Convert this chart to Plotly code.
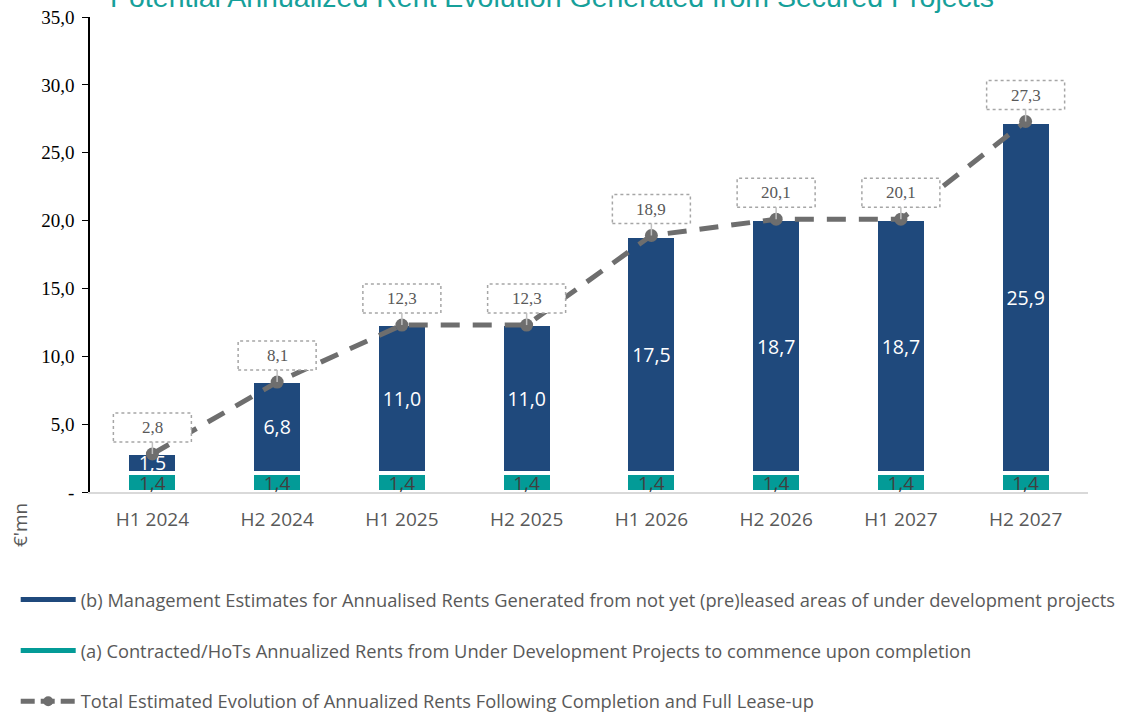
import plotly.graph_objects as go

categories = ["H1 2024", "H2 2024", "H1 2025", "H2 2025", "H1 2026", "H2 2026", "H1 2027", "H2 2027"]
contracted = [1.4, 1.4, 1.4, 1.4, 1.4, 1.4, 1.4, 1.4]
management = [1.5, 6.8, 11.0, 11.0, 17.5, 18.7, 18.7, 25.9]
total = [2.8, 8.1, 12.3, 12.3, 18.9, 20.1, 20.1, 27.3]
ytick_vals = [0, 5, 10, 15, 20, 25, 30, 35]
ytick_text = ["-", "5,0", "10,0", "15,0", "20,0", "25,0", "30,0", "35,0"]

name_b = "(b) Management Estimates for Annualised Rents Generated from not yet (pre)leased areas of under development projects"
name_a = "(a) Contracted/HoTs Annualized Rents from Under Development Projects to commence upon completion"
name_t = "Total Estimated Evolution of Annualized Rents Following Completion and Full Lease-up"
title = "Potential Annualized Rent Evolution Generated from Secured Projects"

BLUE = "#1f497c"
TEAL = "#039b97"
GRAY = "#6e6e6e"

def fmt(v):
    return f"{v:.1f}".replace(".", ",")

xs = list(range(len(categories)))
fig = go.Figure()

fig.add_trace(go.Bar(
    x=xs, y=contracted, width=0.4, marker=dict(color=TEAL, line=dict(color="white", width=4)),
    text=[fmt(v) for v in contracted], textposition="inside", insidetextanchor="middle",
    textfont=dict(family="Open Sans", size=19, color="#404040"), showlegend=False, hoverinfo="skip"))
fig.add_trace(go.Bar(
    x=xs, y=management, width=0.4, marker=dict(color=BLUE, line=dict(color="white", width=4)),
    text=[fmt(v) for v in management], textposition="inside", insidetextanchor="middle",
    textfont=dict(family="Open Sans", size=19.5, color="white"), showlegend=False, hoverinfo="skip"))
fig.add_trace(go.Scatter(
    x=xs, y=total, mode="lines+markers",
    line=dict(color=GRAY, width=5, dash="19px,13px"),
    marker=dict(color=GRAY, size=13), showlegend=False, hoverinfo="skip"))

# legend entries
fig.add_trace(go.Scatter(x=[None], y=[None], mode="lines", line=dict(color=BLUE, width=5),
                         name=name_b, legendgroup="b", legendrank=1))
fig.add_trace(go.Scatter(x=[None], y=[None], mode="lines", line=dict(color=TEAL, width=5),
                         name=name_a, legendgroup="a", legendrank=2))
fig.add_trace(go.Scatter(x=[None], y=[None], mode="lines+markers",
                         line=dict(color=GRAY, width=5, dash="14px,6px"),
                         marker=dict(color=GRAY, size=10),
                         name=name_t, legendgroup="t", legendrank=3))

# total labels in dotted boxes with leader lines
for i, t in zip(xs, total):
    fig.add_shape(type="rect", xref="x", yref="y", xsizemode="pixel", ysizemode="pixel",
                  xanchor=i, yanchor=t, x0=-39, x1=39, y0=12, y1=41,
                  line=dict(color="#a6a6a6", width=1.5, dash="dot"), fillcolor="white", layer="above")
    fig.add_shape(type="line", xref="x", yref="y", xsizemode="pixel", ysizemode="pixel",
                  xanchor=i, yanchor=t, x0=0, x1=0, y0=0, y1=12,
                  line=dict(color="#bfbfbf", width=1.5), layer="above")
    fig.add_annotation(x=i, y=t, xref="x", yref="y", text=fmt(t), showarrow=False,
                       yshift=26.5, font=dict(family="Liberation Serif", size=17, color="#595959"))

fig.add_annotation(xref="paper", yref="paper", x=0.463, y=1, yshift=20, xanchor="center", yanchor="middle",
                   text=title, showarrow=False,
                   font=dict(family="Liberation Sans", size=28.5, color="#16a09a"))
fig.add_annotation(xref="paper", yref="paper", x=0, y=0, xshift=-70, yshift=-33,
                   xanchor="center", yanchor="middle", text="€'mn", textangle=-90, showarrow=False,
                   font=dict(family="Open Sans", size=19, color="#595959"))

fig.update_layout(
    width=1122, height=714,
    margin=dict(l=90, r=34, t=17, b=222, autoexpand=False),
    plot_bgcolor="white", paper_bgcolor="white",
    barmode="stack", bargap=0.6,
    showlegend=True,
    legend=dict(xref="container", yref="container", x=0.014, y=0.186, xanchor="left", yanchor="top",
                orientation="v", tracegroupgap=24,
                font=dict(family="Open Sans", size=18.3, color="#595959"), itemwidth=55),
    xaxis=dict(tickvals=xs, ticktext=categories, range=[-0.5, 7.5], showline=True,
               linecolor="#d9d9d9", linewidth=2, ticks="", showgrid=False, zeroline=False,
               tickfont=dict(family="Open Sans", size=19, color="#595959"), ticklabelstandoff=9),
    yaxis=dict(range=[0, 35], tickvals=ytick_vals, ticktext=ytick_text, showline=True,
               linecolor="black", linewidth=1.5, ticks="outside", ticklen=6, tickcolor="black",
               showgrid=False, zeroline=False, ticklabelstandoff=4,
               tickfont=dict(family="Liberation Serif", size=19, color="black")),
    uniformtext=dict(minsize=19, mode="show"),
)

fig.write_html("out.html", config={"displayModeBar": False},
               post_script="document.body.style.margin='0px';")
